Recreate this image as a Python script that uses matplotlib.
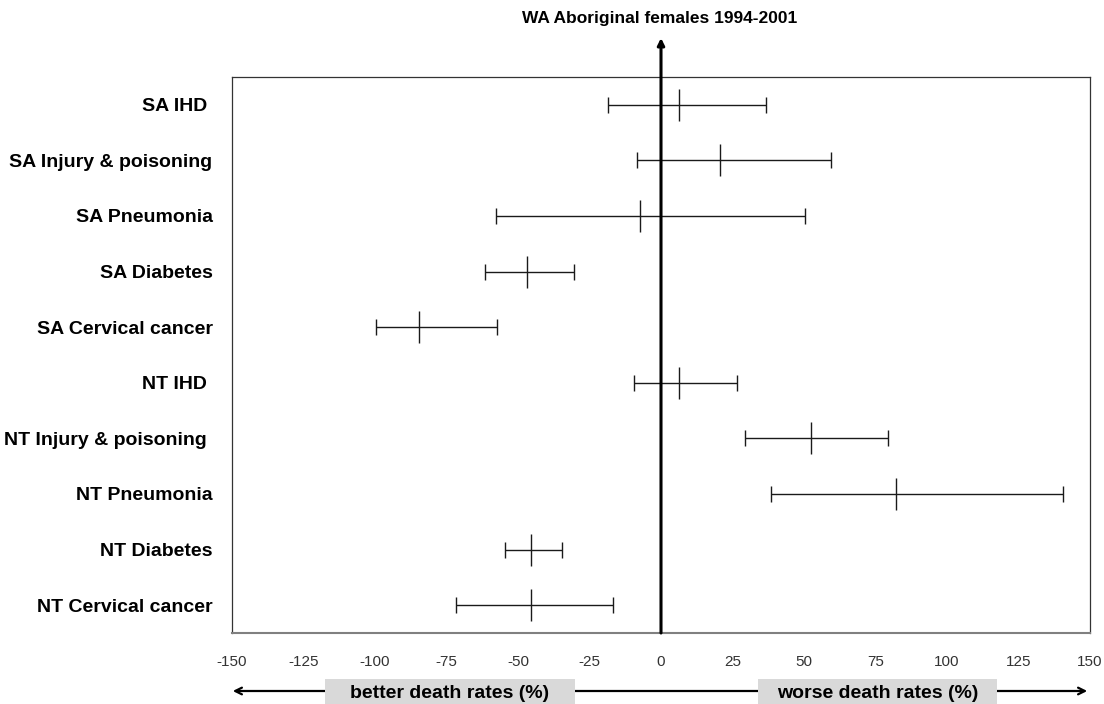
import matplotlib

matplotlib.use("Agg")
import matplotlib.pyplot as plt
from matplotlib.patches import Rectangle, FancyArrowPatch

plt.rcParams["font.family"] = ["Liberation Sans", "DejaVu Sans"]

causes = [
    "SA IHD ",
    "SA Injury & poisoning",
    "SA Pneumonia",
    "SA Diabetes",
    "SA Cervical cancer",
    "NT IHD ",
    "NT Injury & poisoning ",
    "NT Pneumonia",
    "NT Diabetes",
    "NT Cervical cancer",
]
estimate = [6.3, 20.5, -7.5, -47.0, -84.5, 6.4, 52.4, 82.3, -45.6, -45.6]
lower = [-18.6, -8.4, -57.7, -61.5, -99.5, -9.4, 29.3, 38.6, -54.5, -71.6]
upper = [36.6, 59.3, 50.5, -30.5, -57.4, 26.5, 79.4, 140.6, -34.5, -16.7]
xticks = list(range(-150, 151, 25))

fig = plt.figure(figsize=(11.04, 7.04), dpi=100)
ax = fig.add_axes([232 / 1104, 1 - 633 / 704, (1090 - 232) / 1104, (633 - 77) / 704])

n = len(causes)
ypos = [n - i for i in range(n)]
err = [[e - l for e, l in zip(estimate, lower)], [u - e for e, u in zip(estimate, upper)]]
ax.errorbar(estimate, ypos, xerr=err, fmt="|", color="#1a1a1a", ecolor="#1a1a1a",
            elinewidth=1.0, capsize=6, capthick=1.0, markersize=23, mew=1.0, zorder=3)

ax.set_xlim(-150, 150)
ax.set_ylim(0.5, n + 0.5)
ax.set_xticks(xticks)
ax.set_xticklabels([str(t) for t in xticks], fontsize=11, color="#333333")
ax.set_yticks(ypos)
ax.set_yticklabels(causes, fontsize=14, fontweight="bold")
ax.tick_params(axis="x", length=0, pad=16)
ax.tick_params(axis="y", length=0, pad=14)
for side in ["top", "left", "right"]:
    ax.spines[side].set_color("#333333")
    ax.spines[side].set_linewidth(0.9)
ax.spines["bottom"].set_color("#808080")
ax.spines["bottom"].set_linewidth(1.5)

# zero line with arrow above the plot
ax.annotate("", xy=(0, 1 + 39 / 556), xytext=(0, 0),
            xycoords=("data", "axes fraction"), textcoords=("data", "axes fraction"),
            arrowprops=dict(arrowstyle="-|>", color="black", lw=2.2,
                            mutation_scale=10, shrinkA=0, shrinkB=0),
            annotation_clip=False, zorder=4)

fig.text(660 / 1104, 1 - 18 / 704, "WA Aboriginal females 1994-2001",
         ha="center", va="center", fontsize=12.5, fontweight="bold")

# bottom direction arrow with labels
ya = 1 - 691 / 704
fig.add_artist(FancyArrowPatch(
    (230 / 1104, ya), (1090 / 1104, ya), transform=fig.transFigure,
    arrowstyle="<->", mutation_scale=12, lw=1.6, color="black"))
for x0, x1, label in [(325, 575, "better death rates (%)"), (758, 997, "worse death rates (%)")]:
    fig.add_artist(Rectangle((x0 / 1104, 0), (x1 - x0) / 1104, 25 / 704,
                             transform=fig.transFigure, facecolor="#d9d9d9",
                             edgecolor="none", zorder=5))
    fig.text((x0 + x1) / 2 / 1104, 1 - 693 / 704, label, ha="center", va="center",
             fontsize=14, fontweight="bold", zorder=6)

fig.savefig("out.png", dpi=100)
plt.close(fig)
